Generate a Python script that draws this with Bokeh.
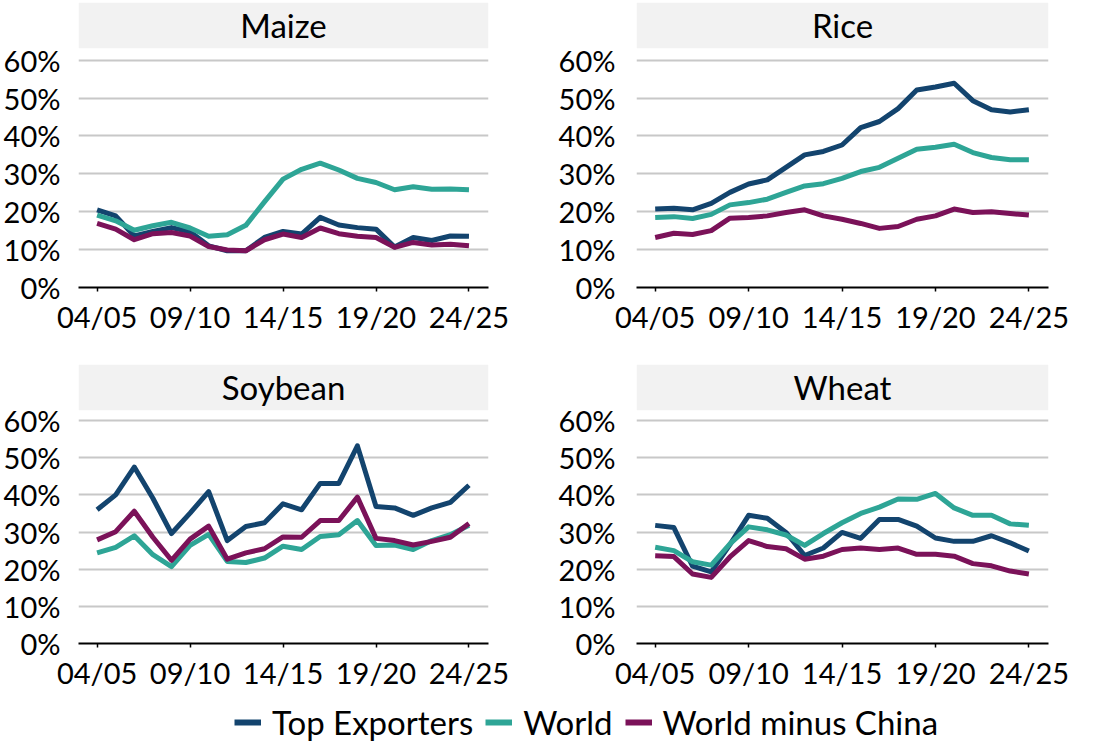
from bokeh.plotting import figure
from bokeh.layouts import column, row
from bokeh.models import BoxAnnotation, Label, Legend, LegendItem, FixedTicker, Range1d
from bokeh.embed import file_html
from bokeh.resources import INLINE

seasons = ["04/05", "05/06", "06/07", "07/08", "08/09", "09/10", "10/11", "11/12",
           "12/13", "13/14", "14/15", "15/16", "16/17", "17/18", "18/19", "19/20",
           "20/21", "21/22", "22/23", "23/24", "24/25"]
series_names = ["Top Exporters", "World", "World minus China"]
y_ticks = [0, 10, 20, 30, 40, 50, 60]
x_tick_idx = [0, 5, 10, 15, 20]

maize_top = [20.5, 18.9, 13.6, 14.8, 15.8, 14.7, 11.0, 9.7, 9.7, 13.2, 14.8, 14.1, 18.5, 16.5, 15.8, 15.4, 10.7, 13.2, 12.4, 13.6, 13.5]
maize_world = [19.1, 17.6, 15.1, 16.3, 17.2, 15.7, 13.5, 13.9, 16.4, 22.6, 28.6, 31.2, 32.8, 31.0, 28.8, 27.7, 25.8, 26.6, 25.9, 26.0, 25.8]
maize_wmc = [16.9, 15.4, 12.6, 14.2, 14.5, 13.6, 10.8, 9.9, 9.7, 12.6, 14.1, 13.2, 15.7, 14.2, 13.5, 13.2, 10.6, 11.9, 11.2, 11.4, 11.0]

rice_top = [20.7, 20.9, 20.5, 22.2, 25.1, 27.3, 28.4, 31.7, 35.0, 35.9, 37.6, 42.2, 43.8, 47.2, 52.1, 52.9, 53.9, 49.3, 46.9, 46.3, 46.9]
rice_world = [18.5, 18.7, 18.2, 19.3, 21.8, 22.4, 23.3, 25.1, 26.8, 27.4, 28.8, 30.6, 31.7, 34.1, 36.5, 37.0, 37.8, 35.6, 34.3, 33.7, 33.7]
rice_wmc = [13.2, 14.3, 14.0, 15.0, 18.3, 18.5, 18.9, 19.8, 20.5, 18.9, 18.0, 16.9, 15.6, 16.1, 18.0, 18.9, 20.7, 19.8, 20.0, 19.5, 19.1]

soy_top = [36.0, 40.0, 47.5, 39.1, 29.6, 35.1, 40.9, 27.7, 31.5, 32.5, 37.6, 36.0, 43.1, 43.1, 53.2, 36.9, 36.5, 34.5, 36.5, 38.0, 42.6]
soy_world = [24.4, 25.9, 29.0, 23.9, 20.7, 26.4, 29.4, 22.1, 21.8, 23.0, 26.2, 25.3, 28.8, 29.3, 33.1, 26.4, 26.5, 25.3, 27.7, 29.3, 31.8]
soy_wmc = [27.9, 30.1, 35.6, 28.6, 22.4, 28.1, 31.6, 22.7, 24.4, 25.5, 28.7, 28.6, 33.1, 33.1, 39.4, 28.3, 27.7, 26.5, 27.5, 28.6, 32.3]

wheat_top = [31.8, 31.2, 20.8, 19.3, 26.6, 34.5, 33.7, 29.9, 23.7, 25.7, 29.9, 28.3, 33.4, 33.4, 31.6, 28.4, 27.5, 27.5, 29.0, 27.1, 24.9]
wheat_world = [25.9, 25.0, 22.0, 21.1, 26.8, 31.4, 30.6, 29.2, 26.4, 29.6, 32.5, 35.0, 36.7, 38.9, 38.8, 40.4, 36.5, 34.5, 34.5, 32.2, 31.8]
wheat_wmc = [23.6, 23.4, 18.7, 17.8, 23.3, 27.7, 26.1, 25.5, 22.7, 23.5, 25.3, 25.7, 25.3, 25.7, 24.0, 24.0, 23.5, 21.5, 20.9, 19.5, 18.7]

COLORS = ["#13446E", "#2EA596", "#7B1259"]
FONT = "Lato"


def panel(title, data, width, height, mbl, mbr, mbt, mbb, yend, strip_bottom, standoff):
    x = list(range(len(seasons)))
    p = figure(width=width, height=height, x_range=Range1d(-1.0, 21.05),
               y_range=Range1d(0, yend), output_backend="svg", toolbar_location=None,
               min_border_left=mbl, min_border_right=mbr, min_border_top=mbt,
               min_border_bottom=mbb)
    p.outline_line_color = None
    p.background_fill_color = "white"
    p.border_fill_color = "white"
    p.xgrid.grid_line_color = None
    p.ygrid.grid_line_color = "#c8c8c8"
    p.ygrid.grid_line_width = 2

    p.yaxis.ticker = FixedTicker(ticks=y_ticks)
    p.yaxis.major_label_overrides = {v: f"{v}%" for v in y_ticks}
    p.yaxis.axis_line_color = None
    p.yaxis.major_tick_line_color = None
    p.yaxis.minor_tick_line_color = None
    p.yaxis.major_label_standoff = standoff
    p.yaxis.major_label_text_font = FONT
    p.yaxis.major_label_text_font_size = "29px"
    p.yaxis.major_label_text_color = "black"

    p.xaxis.ticker = FixedTicker(ticks=x_tick_idx)
    p.xaxis.major_label_overrides = {i: seasons[i] for i in x_tick_idx}
    p.xaxis.axis_line_color = "black"
    p.xaxis.axis_line_width = 2
    p.xaxis.major_tick_line_color = "black"
    p.xaxis.major_tick_line_width = 1.5
    p.xaxis.major_tick_in = 0
    p.xaxis.major_tick_out = 4
    p.xaxis.minor_tick_line_color = None
    p.xaxis.major_label_standoff = 7
    p.xaxis.major_label_text_font = FONT
    p.xaxis.major_label_text_font_size = "29px"
    p.xaxis.major_label_text_color = "black"

    p.add_layout(BoxAnnotation(bottom=strip_bottom, fill_color="#f2f2f2", fill_alpha=1,
                               line_color=None, level="underlay"))
    p.add_layout(Label(x=10.025, y=(strip_bottom + yend) / 2, text=title,
                       text_align="center", text_baseline="middle",
                       text_font=FONT, text_font_size="33px", text_color="black"))
    rs = []
    for ys, c in zip(data, COLORS):
        rs.append(p.line(x, ys, line_color=c, line_width=5, line_join="round"))
    return p, rs


f_maize, _ = panel("Maize", [maize_top, maize_world, maize_wmc], 555, 364, 70, 67, 2, 77, 75.2, 63.1, 12)
f_rice, _ = panel("Rice", [rice_top, rice_world, rice_wmc], 544, 364, 76, 51, 2, 77, 75.2, 63.1, 15)
f_soy, _ = panel("Soybean", [soy_top, soy_world, soy_wmc], 555, 328, 70, 67, 0, 43, 75.1, 62.8, 12)
f_wheat, _ = panel("Wheat", [wheat_top, wheat_world, wheat_wmc], 544, 328, 76, 51, 0, 43, 75.1, 62.8, 15)

lf = figure(width=1099, height=50, x_range=Range1d(0, 1), y_range=Range1d(0, 1),
            toolbar_location=None, output_backend="svg", min_border=0,
            x_axis_type=None, y_axis_type=None)
lf.outline_line_color = None
lf.xgrid.grid_line_color = None
lf.ygrid.grid_line_color = None
items = []
for name, c in zip(series_names, COLORS):
    r = lf.line([-3, -2], [-3, -3], line_color=c, line_width=6)
    items.append(LegendItem(label=name, renderers=[r]))
legend = Legend(items=items, orientation="horizontal", location=(234, 0),
                padding=0, margin=0, spacing=12, label_standoff=11,
                glyph_width=27, glyph_height=20, label_height=20,
                label_text_font=FONT, label_text_font_size="33px",
                label_text_color="black", label_text_baseline="middle",
                border_line_color=None, background_fill_alpha=0)
lf.add_layout(legend)

layout = column(row(f_maize, f_rice), row(f_soy, f_wheat), lf)
open("out.html", "w").write(file_html(layout, INLINE))
